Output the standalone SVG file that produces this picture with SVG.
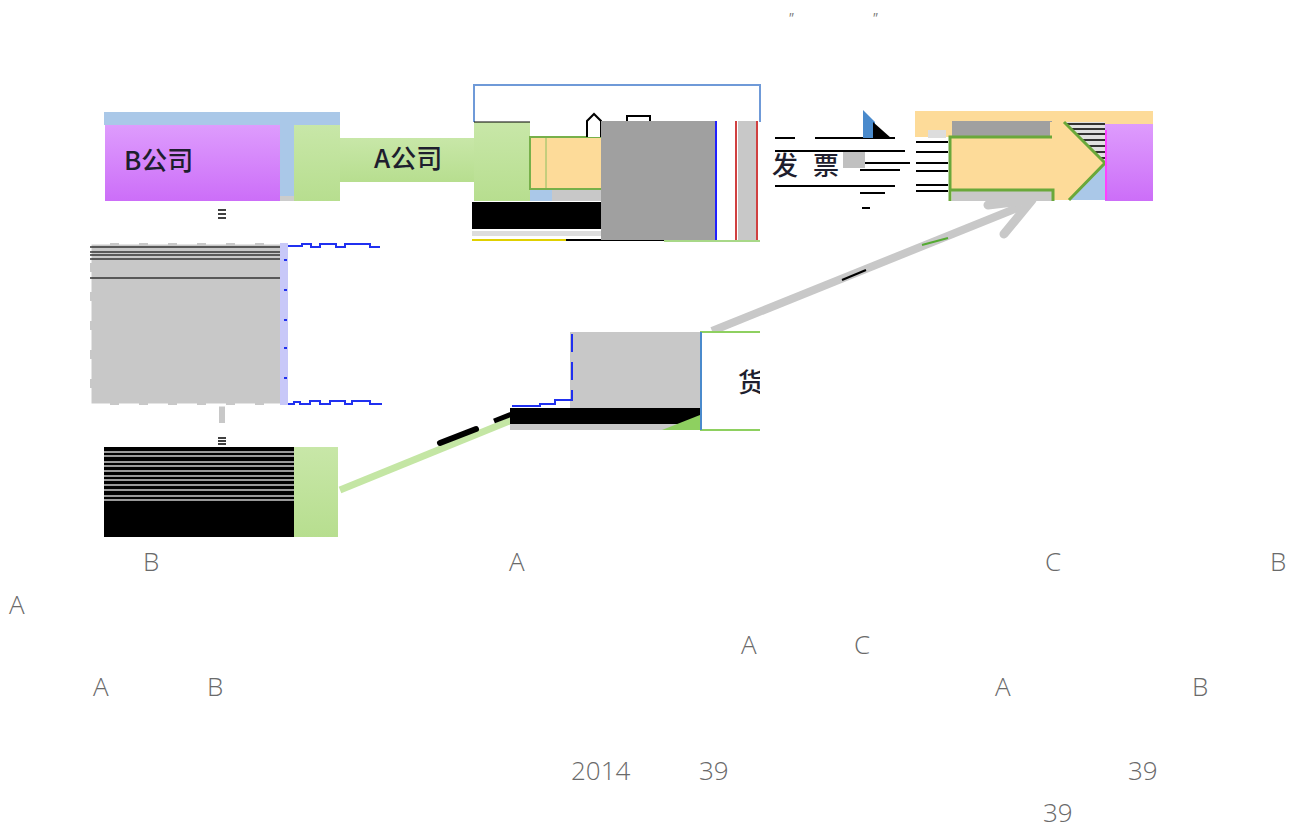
<svg xmlns="http://www.w3.org/2000/svg" width="1300" height="830" viewBox="0 0 1300 830">
<defs>
<linearGradient id="gPurple" x1="0" y1="0" x2="0" y2="1"><stop offset="0" stop-color="#de9cfd"/><stop offset="1" stop-color="#cc6ef8"/></linearGradient>
<linearGradient id="gGreen" x1="0" y1="0" x2="0" y2="1"><stop offset="0" stop-color="#c8e7a8"/><stop offset="1" stop-color="#b7de8f"/></linearGradient>
<clipPath id="clipHuo"><rect x="700" y="332" width="60" height="98"/></clipPath>
<clipPath id="clipTri"><polygon points="1065,122 1105,122 1105,162"/></clipPath>
<style>
.lbl{font-family:"Noto Sans CJK SC","Noto Sans",sans-serif;font-size:26px;font-weight:500;fill:#1e1e2e}
.note{font-family:"Open Sans","Liberation Sans",sans-serif;font-weight:300;font-size:26px;fill:#6a6a6a}
.q{font-family:"Open Sans","Liberation Sans",sans-serif;font-size:14px;fill:#777;font-style:italic}
.blk{fill:#000}
.gray{fill:#c8c8c8}
.dgray{fill:#a0a0a0}
.lblue{fill:#aac8e8}
.orange{fill:#fddb99}
.hl{stroke:#000;stroke-width:2}
</style>
</defs>
<rect width="1300" height="830" fill="#fff"/>

<g id="connectors">
  <rect x="219" y="203" width="6" height="32" fill="#fff"/>
  <g stroke="#000" stroke-width="1.5"><line x1="218" y1="210" x2="226" y2="210"/><line x1="218" y1="214" x2="226" y2="214"/><line x1="218" y1="218" x2="226" y2="218"/></g>
  <rect x="219" y="405" width="6" height="18" class="gray"/>
  <g stroke="#000" stroke-width="1.5"><line x1="218" y1="438" x2="226" y2="438"/><line x1="218" y1="441" x2="226" y2="441"/><line x1="218" y1="444" x2="226" y2="444"/></g>
  <line x1="340" y1="490" x2="512" y2="420" stroke="#c4e6a4" stroke-width="7"/>
  <line x1="440" y1="443" x2="476" y2="429" stroke="#000" stroke-width="6" stroke-linecap="round"/>
  <line x1="494" y1="421" x2="512" y2="414" stroke="#000" stroke-width="5"/>
  <line x1="712" y1="331" x2="1022" y2="206" stroke="#c8c8c8" stroke-width="8"/>
  <polyline points="988,205 1032,200 1004,234" fill="none" stroke="#c8c8c8" stroke-width="9" stroke-linecap="round" stroke-linejoin="round"/>
  <line x1="842" y1="280" x2="866" y2="270" stroke="#000" stroke-width="2"/>
  <line x1="922" y1="245" x2="948" y2="238" stroke="#55aa33" stroke-width="2"/>
</g>

<g id="node-b-company">
  <rect x="104" y="112" width="236" height="13" class="lblue"/>
  <rect x="105" y="125" width="175" height="76" fill="url(#gPurple)"/>
  <rect x="280" y="125" width="14" height="76" class="lblue"/>
  <rect x="280" y="196" width="14" height="5" fill="#ccc"/>
  <text x="124" y="170" class="lbl">B公司</text>
</g>

<g id="node-a-company">
  <rect x="294" y="125" width="46" height="76" fill="url(#gGreen)"/>
  <rect x="340" y="138" width="134" height="44" fill="url(#gGreen)"/>
  <rect x="474" y="122" width="56" height="79" fill="url(#gGreen)"/>
  <text x="374" y="168" class="lbl">A公司</text>
</g>

<g id="node-contract">
  <path d="M474,122 V85 H760 V122" fill="none" stroke="#6f9ad8" stroke-width="2"/>
  <line x1="474" y1="122" x2="530" y2="122" stroke="#000" stroke-width="1"/>
  <rect x="530" y="137" width="134" height="52" class="orange" stroke="#77b04a" stroke-width="2"/>
  <line x1="546" y1="138" x2="546" y2="188" stroke="#8cc060" stroke-width="1"/>
  <rect x="530" y="190" width="22" height="11" class="lblue"/>
  <rect x="552" y="190" width="112" height="11" class="gray"/>
  <rect x="472" y="202" width="192" height="27" class="blk"/>
  <rect x="472" y="231" width="192" height="5" fill="#ddd"/>
  <line x1="472" y1="240" x2="566" y2="240" stroke="#e0d000" stroke-width="2"/>
  <line x1="566" y1="240" x2="664" y2="240" stroke="#000" stroke-width="2"/>
  <path d="M587,137 V121 L594,114 L601,121 V137" fill="#fff" stroke="#000" stroke-width="2"/>
  <rect x="627" y="116" width="23" height="8" fill="#fff" stroke="#000" stroke-width="2"/>
  <rect x="601" y="121" width="115" height="119" class="dgray"/>
  <line x1="716" y1="121" x2="716" y2="240" stroke="#2020ff" stroke-width="2"/>
  <rect x="738" y="121" width="19" height="119" class="gray"/>
  <line x1="736" y1="121" x2="736" y2="240" stroke="#d04040" stroke-width="2"/>
  <line x1="757" y1="121" x2="757" y2="240" stroke="#d04040" stroke-width="2"/>
  <line x1="664" y1="241" x2="760" y2="241" stroke="#a8d888" stroke-width="2"/>
</g>

<g id="node-invoice-label">
  <g class="hl">
    <line x1="775" y1="138" x2="795" y2="138"/><line x1="815" y1="138" x2="895" y2="138"/>
    <line x1="775" y1="151" x2="905" y2="151"/>
    <line x1="850" y1="163" x2="910" y2="163"/>
    <line x1="860" y1="170" x2="900" y2="170"/>
    <line x1="775" y1="186" x2="895" y2="186"/>
    <line x1="860" y1="193" x2="885" y2="193"/>
    <line x1="862" y1="208" x2="870" y2="208"/>
    <line x1="916" y1="142" x2="948" y2="142"/><line x1="916" y1="152" x2="948" y2="152"/>
    <line x1="916" y1="163" x2="948" y2="163"/><line x1="916" y1="171" x2="948" y2="171"/>
    <line x1="916" y1="185" x2="948" y2="185"/><line x1="916" y1="191" x2="948" y2="191"/>
  </g>
  <rect x="843" y="152" width="22" height="16" fill="#c0c0c0"/>
  <polygon points="863,110 875,122 875,138 863,138" fill="#4a8acc"/>
  <polygon points="873,122 891,138 873,138" fill="#000"/>
  <text x="772" y="175" class="lbl">发</text>
  <text x="813" y="175" class="lbl">票</text>
</g>

<g id="node-c-company">
  <rect x="915" y="111" width="238" height="26" class="orange"/>
  <rect x="928" y="130" width="18" height="8" fill="#ddd"/>
  <rect x="952" y="121" width="100" height="15" class="dgray"/>
  <polygon points="1050,122 1105,122 1105,200 1050,200" class="orange"/>
  <g clip-path="url(#clipTri)">
    <rect x="1065" y="122" width="40" height="40" fill="#e0e0e0"/>
    <g stroke="#333" stroke-width="2">
      <line x1="1060" y1="124" x2="1105" y2="124"/><line x1="1060" y1="129" x2="1105" y2="129"/>
      <line x1="1060" y1="134" x2="1105" y2="134"/><line x1="1060" y1="140" x2="1105" y2="140"/>
      <line x1="1060" y1="146" x2="1105" y2="146"/><line x1="1060" y1="152" x2="1105" y2="152"/>
      <line x1="1060" y1="158" x2="1105" y2="158"/>
    </g>
  </g>
  <polygon points="1069,200 1105,164 1105,200" class="lblue"/>
  <rect x="950" y="137" width="102" height="53" class="orange"/>
  <rect x="952" y="190" width="100" height="11" class="gray"/>
  <path d="M950,201 V137 H1052 M950,190 H1053 V201" fill="none" stroke="#6aa83a" stroke-width="3"/>
  <path d="M1064,122 L1105,163 L1069,200" fill="none" stroke="#6aa83a" stroke-width="3"/>
  <rect x="1105" y="124" width="48" height="77" fill="url(#gPurple)"/>
  <line x1="1106" y1="130" x2="1106" y2="200" stroke="#ff40ff" stroke-width="2"/>
</g>

<g id="node-process">
  <rect x="90" y="243" width="192" height="162" class="gray"/>
  <path d="M90,243 H282 M90,405 H282" fill="none" stroke="#fff" stroke-width="3" stroke-dasharray="20,9"/>
  <path d="M90,243 V405" fill="none" stroke="#fff" stroke-width="3" stroke-dasharray="20,9"/>
  <rect x="280" y="243" width="8" height="162" fill="#c8c8f8"/>
  <g stroke="#333" stroke-width="1.5">
    <line x1="90" y1="247" x2="280" y2="247"/><line x1="90" y1="252" x2="280" y2="252"/>
    <line x1="90" y1="255" x2="280" y2="255"/><line x1="90" y1="259" x2="280" y2="259"/>
    <line x1="90" y1="278" x2="280" y2="278"/>
  </g>
  <path d="M288,246 H302 V244 H311 V247 H320 V244 H336 V247 H345 V244 H370 V247 H380" fill="none" stroke="#2030f0" stroke-width="2"/>
  <path d="M288,404 H294 V402 H300 V404 H310 V401 H320 V404 H330 V401 H345 V404 H352 V401 H370 V404 H382" fill="none" stroke="#2030f0" stroke-width="2"/>
  <path d="M284,260 H287 M284,290 H287 M284,320 H287 M284,348 H287 M284,378 H287" stroke="#2030f0" stroke-width="2"/>
</g>

<g id="node-goods">
  <rect x="570" y="332" width="130" height="76" class="gray"/>
  <path d="M572,334 V352 M572,362 V380 M572,390 V400 H555 V404 H540 V406 H512" fill="none" stroke="#2030f0" stroke-width="2"/>
  <rect x="510" y="408" width="190" height="16" class="blk"/>
  <rect x="510" y="424" width="190" height="6" class="gray"/>
  <polygon points="662,430 700,415 700,430" fill="#8ed060"/>
  <rect x="700" y="332" width="60" height="98" fill="#fff"/>
  <line x1="700" y1="332" x2="760" y2="332" stroke="#8ed060" stroke-width="2"/>
  <line x1="700" y1="430" x2="760" y2="430" stroke="#8ed060" stroke-width="2"/>
  <line x1="701" y1="332" x2="701" y2="430" stroke="#4a8acc" stroke-width="2"/>
  <text x="738" y="392" class="lbl" font-size="27" clip-path="url(#clipHuo)">货</text>
</g>

<g id="node-bottom">
  <rect x="104" y="447" width="190" height="90" class="blk"/>
  <g stroke="#ccc" stroke-width="1.5">
    <line x1="104" y1="452" x2="294" y2="452"/><line x1="104" y1="456" x2="294" y2="456"/>
    <line x1="104" y1="462" x2="294" y2="462"/><line x1="104" y1="466" x2="294" y2="466"/>
    <line x1="104" y1="471" x2="294" y2="471"/><line x1="104" y1="476" x2="294" y2="476"/>
    <line x1="104" y1="480" x2="294" y2="480"/><line x1="104" y1="485" x2="294" y2="485"/>
    <line x1="104" y1="490" x2="294" y2="490"/><line x1="104" y1="496" x2="294" y2="496"/>
    <line x1="104" y1="500" x2="294" y2="500"/>
  </g>
  <rect x="294" y="447" width="44" height="90" fill="url(#gGreen)"/>
</g>

<g id="texts">
  <text x="788" y="23" class="q">"</text>
  <text x="872" y="23" class="q">"</text>
  <text x="143" y="571" class="note">B</text>
  <text x="509" y="571" class="note">A</text>
  <text x="1045" y="571" class="note">C</text>
  <text x="1270" y="571" class="note">B</text>
  <text x="9" y="614" class="note">A</text>
  <text x="741" y="654" class="note">A</text>
  <text x="854" y="654" class="note">C</text>
  <text x="93" y="696" class="note">A</text>
  <text x="207" y="696" class="note">B</text>
  <text x="995" y="696" class="note">A</text>
  <text x="1192" y="696" class="note">B</text>
  <text x="571" y="780" class="note">2014</text>
  <text x="699" y="780" class="note">39</text>
  <text x="1128" y="780" class="note">39</text>
  <text x="1043" y="822" class="note">39</text>
</g>
</svg>
